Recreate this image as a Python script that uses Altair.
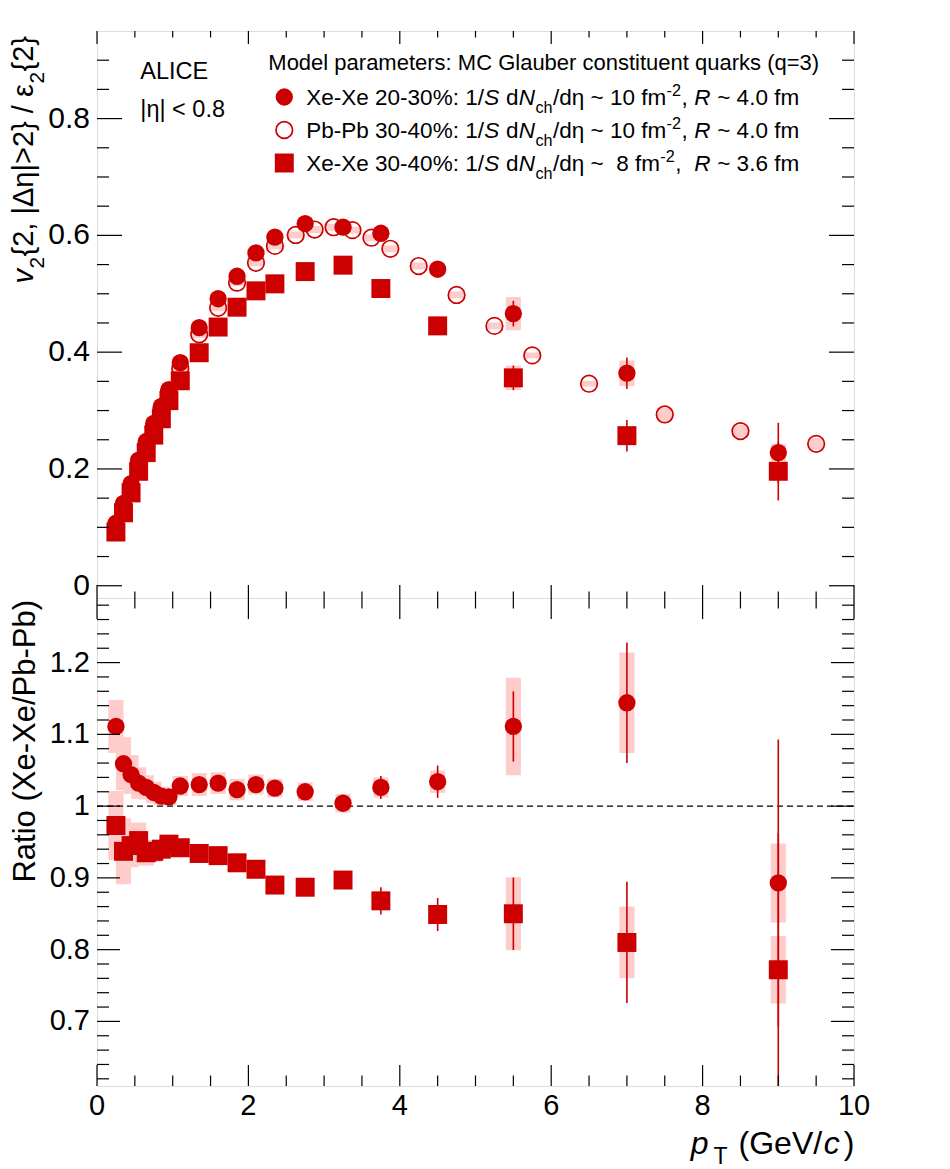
import altair as alt
import pandas as pd

RED = "#cc0000"
PINK = "#ffcccc"
FONT = "Liberation Sans"

# ---------------- data ----------------
XE_PT = [0.25, 0.35, 0.45, 0.55, 0.65, 0.75, 0.85, 0.95, 1.1, 1.35, 1.6, 1.85, 2.1, 2.35,
         2.75, 3.25, 3.75, 4.5, 5.5, 7.0, 9.0]
# Xe-Xe 20-30 %
XE2030_V = [0.107, 0.141, 0.175, 0.215, 0.247, 0.278, 0.307, 0.336, 0.382, 0.442, 0.4915, 0.530,
            0.570, 0.597, 0.620, 0.614, 0.6036, 0.542, 0.466, 0.364, 0.228]
XE2030_STAT = [0.002, 0.002, 0.002, 0.002, 0.002, 0.002, 0.002, 0.002, 0.002, 0.002, 0.002, 0.003,
               0.003, 0.003, 0.003, 0.004, 0.005, 0.008, 0.022, 0.027, 0.051]
XE2030_SYST = [0.003, 0.004, 0.004, 0.005, 0.005, 0.005, 0.006, 0.006, 0.006, 0.007, 0.007, 0.008,
               0.008, 0.008, 0.008, 0.008, 0.009, 0.010, 0.0285, 0.022, 0.015]
# Xe-Xe 30-40 %
XE3040_V = [0.092, 0.125, 0.159, 0.196, 0.228, 0.258, 0.286, 0.317, 0.351, 0.399, 0.443, 0.477,
            0.505, 0.517, 0.538, 0.549, 0.509, 0.445, 0.356, 0.257, 0.196]
XE3040_STAT = [0.002, 0.002, 0.002, 0.002, 0.002, 0.002, 0.002, 0.002, 0.002, 0.002, 0.002, 0.003,
               0.003, 0.003, 0.003, 0.004, 0.005, 0.007, 0.021, 0.027, 0.050]
XE3040_SYST = [0.003, 0.004, 0.004, 0.005, 0.005, 0.005, 0.006, 0.006, 0.006, 0.007, 0.007, 0.008,
               0.008, 0.008, 0.008, 0.008, 0.009, 0.010, 0.021, 0.012, 0.012]
# Pb-Pb 30-40 %
PB_PT = [0.25, 0.35, 0.45, 0.55, 0.65, 0.75, 0.85, 0.95, 1.1, 1.35, 1.6, 1.85, 2.1, 2.35,
         2.625, 2.875, 3.125, 3.375, 3.625, 3.875, 4.25, 4.75, 5.25, 5.75, 6.5, 7.5, 8.5, 9.5]
PB_V = [0.0954, 0.132, 0.1667, 0.206, 0.239, 0.272, 0.302, 0.332, 0.372, 0.4305, 0.476, 0.519,
        0.553, 0.582, 0.6007, 0.610, 0.614, 0.609, 0.596, 0.577, 0.5475, 0.498, 0.445, 0.3945,
        0.346, 0.2934, 0.2648, 0.243]
PB_SYST = [0.003, 0.004, 0.004, 0.004, 0.005, 0.005, 0.005, 0.005, 0.006, 0.006, 0.006, 0.006,
           0.006, 0.006, 0.006, 0.006, 0.006, 0.006, 0.006, 0.006, 0.006, 0.006, 0.006, 0.005,
           0.005, 0.011, 0.011, 0.010]
# Ratios Xe-Xe / Pb-Pb
R2030 = [1.111, 1.059, 1.044, 1.032, 1.026, 1.019, 1.014, 1.013, 1.028, 1.030, 1.032, 1.023,
         1.030, 1.025, 1.020, 1.004, 1.026, 1.034, 1.111, 1.144, 0.893]
R2030_STAT = [0.006, 0.005, 0.004, 0.004, 0.004, 0.004, 0.004, 0.004, 0.005, 0.006, 0.006, 0.006,
              0.007, 0.008, 0.008, 0.009, 0.016, 0.0225, 0.049, 0.084, 0.200]
R2030_SYST = [0.037, 0.037, 0.027, 0.022, 0.017, 0.015, 0.013, 0.012, 0.014, 0.016, 0.015, 0.015,
              0.014, 0.013, 0.013, 0.013, 0.014, 0.0155, 0.068, 0.070, 0.055]
R3040 = [0.973, 0.937, 0.945, 0.952, 0.935, 0.937, 0.940, 0.947, 0.942, 0.934, 0.931, 0.921,
         0.912, 0.890, 0.887, 0.897, 0.868, 0.849, 0.850, 0.810, 0.772]
R3040_STAT = [0.006, 0.005, 0.004, 0.004, 0.004, 0.004, 0.004, 0.004, 0.005, 0.006, 0.006, 0.006,
              0.007, 0.008, 0.008, 0.009, 0.019, 0.023, 0.0505, 0.0845, 0.190]
R3040_SYST = [0.048, 0.046, 0.030, 0.025, 0.018, 0.015, 0.013, 0.012, 0.012, 0.012, 0.012, 0.012,
              0.012, 0.012, 0.012, 0.012, 0.012, 0.012, 0.051, 0.050, 0.047]
REF_LINE = [1.0]

# axis ticks / labels
X_LABELS = [0, 2, 4, 6, 8, 10]
X_MINOR = [0.5, 1, 1.5, 2.5, 3, 3.5, 4.5, 5, 5.5, 6.5, 7, 7.5, 8.5, 9, 9.5]
TOP_Y_LABELS = [0, 0.2, 0.4, 0.6, 0.8]
TOP_Y_MINOR = [0.05, 0.1, 0.15, 0.25, 0.3, 0.35, 0.45, 0.5, 0.55, 0.65, 0.7, 0.75, 0.85, 0.9]
BOT_Y_LABELS = [0.7, 0.8, 0.9, 1.0, 1.1, 1.2]
BOT_Y_MINOR = [0.62, 0.64, 0.66, 0.68, 0.72, 0.74, 0.76, 0.78, 0.82, 0.84, 0.86, 0.88,
               0.92, 0.94, 0.96, 0.98, 1.02, 1.04, 1.06, 1.08, 1.12, 1.14, 1.16, 1.18,
               1.22, 1.24, 1.26, 1.28]

# ---------------- layout ----------------
W = 757
H_TOP = 567
H_BOT = 488
OX, OY_TOP, OY_BOT = 95.7, 30.0, 597.0   # page positions of the panel origins

XS = alt.Scale(domain=[0, 10], nice=False, zero=False)
YS_TOP = alt.Scale(domain=[-0.021, 0.95], nice=False, zero=False)
YS_BOT = alt.Scale(domain=[0.61, 1.29], nice=False, zero=False)

ONE = alt.Data(values=[{"k": 0}])

# Arial / Liberation Sans advance widths (1/1000 em)
WID = {' ': 278, '\u00a0': 278, '%': 889, '(': 333, ')': 333, ',': 278, '-': 333, '.': 278,
       '/': 278, ':': 278, '<': 584, '=': 584, '>': 584, '{': 334, '}': 334, '|': 260, '~': 584,
       'A': 667, 'C': 722, 'E': 667, 'G': 778, 'I': 278, 'L': 556, 'M': 833, 'N': 722, 'P': 667,
       'R': 722, 'S': 667, 'T': 611, 'V': 667, 'X': 667,
       'a': 556, 'b': 556, 'c': 500, 'd': 556, 'e': 556, 'f': 278, 'g': 556, 'h': 556, 'i': 222,
       'k': 500, 'l': 222, 'm': 833, 'n': 556, 'o': 556, 'p': 556, 'q': 556, 'r': 333, 's': 500,
       't': 278, 'u': 556, 'v': 500, 'η': 556, 'Δ': 668, 'ε': 446}


def tw(s):
    return sum(WID.get(c, 556) for c in s) / 1000.0


def rich(parts, x, y, size, angle=0, anchor="start", gap=0.0, subshift=0.36):
    """compose a text from pieces (normal / italic / sub / superscript);
    a piece may carry a third element: extra gap (px) after it"""
    sc = {"n": 1.0, "i": 1.0, "sub": 0.72, "sup": 0.72}
    sh = {"n": 0.0, "i": 0.0, "sub": subshift, "sup": -0.42}
    if angle == 0:
        d, dn = (1, 0), (0, 1)
    else:
        d, dn = (0, -1), (1, 0)
    parts = [(p[0], p[1], p[2] if len(p) > 2 else gap) for p in parts]
    total = sum(tw(t) * size * sc[k] + g for t, k, g in parts) - parts[-1][2]
    cx, cy = x, y
    if anchor == "end":
        cx -= d[0] * total
        cy -= d[1] * total
    out = []
    for t, k, g in parts:
        fs = size * sc[k]
        core = t.strip(" ").replace("  ", " \u00a0")
        lead = len(t) - len(t.lstrip(" "))
        off = tw(" " * lead) * fs
        px = cx + d[0] * off + dn[0] * sh[k] * size
        py = cy + d[1] * off + dn[1] * sh[k] * size
        if core:
            out.append(
                alt.Chart(ONE).mark_text(
                    text=core, align="left", baseline="alphabetic", angle=angle,
                    font=FONT, fontSize=fs, fontStyle="italic" if k == "i" else "normal",
                    color="black",
                ).encode(x=alt.value(px), y=alt.value(py))
            )
        adv = tw(t) * fs + g
        cx += d[0] * adv
        cy += d[1] * adv
    return out


def frame_ticks(H, ys, y_major, y_minor, xl, xs, yl, ysm):
    out = []
    for vals, ln in ((X_LABELS, xl), (X_MINOR, xs)):
        src = alt.Chart(pd.DataFrame({"v": vals}))
        out.append(src.mark_rule(color="black", strokeWidth=1.2).encode(
            x=alt.X("v:Q", scale=XS, axis=None), y=alt.value(H - ln), y2=alt.value(H)))
        out.append(src.mark_rule(color="black", strokeWidth=1.2).encode(
            x=alt.X("v:Q", scale=XS, axis=None), y=alt.value(0), y2=alt.value(ln)))
    for vals, ln in ((y_major, yl), (y_minor, ysm)):
        src = alt.Chart(pd.DataFrame({"v": vals}))
        out.append(src.mark_rule(color="black", strokeWidth=1.2).encode(
            y=alt.Y("v:Q", scale=ys, axis=None), x=alt.value(0), x2=alt.value(ln)))
        out.append(src.mark_rule(color="black", strokeWidth=1.2).encode(
            y=alt.Y("v:Q", scale=ys, axis=None), x=alt.value(W - ln), x2=alt.value(W)))
    return out


def y_labels(vals, ys, size, expr):
    return alt.Chart(pd.DataFrame({"v": vals})).transform_calculate(lab=expr).mark_text(
        align="right", baseline="middle", font=FONT, fontSize=size, color="black"
    ).encode(y=alt.Y("v:Q", scale=ys, axis=None), x=alt.value(-7), text="lab:N")


def x_labels(vals, H, size):
    return alt.Chart(pd.DataFrame({"v": vals})).transform_calculate(
        lab="format(datum.v, 'd')").mark_text(
        align="center", baseline="top", font=FONT, fontSize=size, color="black"
    ).encode(x=alt.X("v:Q", scale=XS, axis=None), y=alt.value(H + 6), text="lab:N")


def boxes(pt, v, err, ys):
    df = pd.DataFrame({"pt": pt, "v": v, "e": err})
    return alt.Chart(df).transform_calculate(
        x0="datum.pt - 0.1", x1="datum.pt + 0.1",
        lo="datum.v - datum.e", hi="datum.v + datum.e",
    ).mark_rect(color=PINK, clip=True).encode(
        x=alt.X("x0:Q", scale=XS, axis=None), x2="x1:Q",
        y=alt.Y("lo:Q", scale=ys, axis=None), y2="hi:Q")


def stats(pt, v, err, ys):
    df = pd.DataFrame({"pt": pt, "v": v, "e": err})
    return alt.Chart(df).transform_calculate(
        lo="datum.v - datum.e", hi="datum.v + datum.e",
    ).mark_rule(color=RED, strokeWidth=1.6, clip=True).encode(
        x=alt.X("pt:Q", scale=XS, axis=None),
        y=alt.Y("lo:Q", scale=ys, axis=None), y2="hi:Q")


MARK = {
    "fc": dict(shape="circle", filled=True, size=300, color=RED, opacity=1),
    "oc": dict(shape="circle", filled=False, size=275, color=RED, strokeWidth=1.7, opacity=1),
    "sq": dict(shape="square", filled=True, size=360, color=RED, opacity=1),
}


def markers(pt, v, ys, kind):
    df = pd.DataFrame({"pt": pt, "v": v})
    return alt.Chart(df).mark_point(**MARK[kind]).encode(
        x=alt.X("pt:Q", scale=XS, axis=None), y=alt.Y("v:Q", scale=ys, axis=None))


def legend_marker(kind, px, py):
    return alt.Chart(ONE).mark_point(**MARK[kind]).encode(
        x=alt.value(px - OX), y=alt.value(py - OY_TOP))


# ---------------- top panel ----------------
top_layers = [
    boxes(PB_PT, PB_V, PB_SYST, YS_TOP),
    boxes(XE_PT, XE2030_V, XE2030_SYST, YS_TOP),
    boxes(XE_PT, XE3040_V, XE3040_SYST, YS_TOP),
    markers(PB_PT, PB_V, YS_TOP, "oc"),
    stats(XE_PT, XE2030_V, XE2030_STAT, YS_TOP),
    stats(XE_PT, XE3040_V, XE3040_STAT, YS_TOP),
    markers(XE_PT, XE2030_V, YS_TOP, "fc"),
    markers(XE_PT, XE3040_V, YS_TOP, "sq"),
]
top_layers += frame_ticks(H_TOP, YS_TOP, TOP_Y_LABELS, TOP_Y_MINOR, 13, 6.5, 25, 12)
top_layers.append(y_labels(TOP_Y_LABELS, YS_TOP, 30,
                           "datum.v == 0 ? '0' : format(datum.v, '.1f')"))


def T(px, py):
    return px - OX, py - OY_TOP


top_layers += rich([("ALICE", "n")], *T(139, 78), 23.5)
top_layers += rich([("|η| < 0.8", "n")], *T(139, 116), 23.5)
top_layers += rich([("Model parameters: MC Glauber constituent quarks (q=3)", "n")], *T(267, 69), 22)
rows = [
    ("fc", "Xe-Xe 20-30%: 1/", " ~ 10 fm", ", ", " ~ 4.0 fm", 96),
    ("oc", "Pb-Pb 30-40%: 1/", " ~ 10 fm", ", ", " ~ 4.0 fm", 129),
    ("sq", "Xe-Xe 30-40%: 1/", " ~  8 fm", ",  ", " ~ 3.6 fm", 162),
]
for kind, head, mid, comma, tail, yc in rows:
    top_layers.append(legend_marker(kind, 283, yc))
    top_layers += rich([(head, "n"), ("S", "i"), (" d", "n"), ("N", "i"), ("ch", "sub"),
                        ("/dη" + mid, "n"), ("-2", "sup"), (comma, "n"), ("R", "i"),
                        (tail, "n")], *T(305, yc + 8), 22.5, gap=0.4)

top_layers += rich([("v", "i"), ("2", "sub"), ("{2, |Δη|>2} / ε", "n"), ("2", "sub"), ("{2}", "n")],
                   *T(32, 35), 29, angle=270, anchor="end", gap=0.5)
# invisible anchor fixing the page offset of the plot area
top_layers.append(alt.Chart(ONE).mark_rule(color="white", strokeWidth=0.5).encode(
    x=alt.value(-(OX - 8)), x2=alt.value(-(OX - 8) + 0.5),
    y=alt.value(-(OY_TOP - 8)), y2=alt.value(-(OY_TOP - 8) + 0.5)))

top = alt.layer(*top_layers).properties(width=W, height=H_TOP)

# ---------------- bottom panel ----------------
def B(px, py):
    return px - OX, py - OY_BOT


bot_layers = [
    boxes(XE_PT, R2030, R2030_SYST, YS_BOT),
    boxes(XE_PT, R3040, R3040_SYST, YS_BOT),
    alt.Chart(pd.DataFrame({"v": REF_LINE})).mark_rule(
        color="black", strokeDash=[6, 4], strokeWidth=1.4).encode(
        y=alt.Y("v:Q", scale=YS_BOT, axis=None), x=alt.value(0), x2=alt.value(W)),
    stats(XE_PT, R2030, R2030_STAT, YS_BOT),
    stats(XE_PT, R3040, R3040_STAT, YS_BOT),
    markers(XE_PT, R2030, YS_BOT, "fc"),
    markers(XE_PT, R3040, YS_BOT, "sq"),
]
bot_layers += frame_ticks(H_BOT, YS_BOT, BOT_Y_LABELS, BOT_Y_MINOR, 21, 10.5, 23, 12)
bot_layers.append(y_labels(BOT_Y_LABELS, YS_BOT, 29,
                           "datum.v == 1 ? '1' : format(datum.v, '.1f')"))
bot_layers.append(x_labels(X_LABELS, H_BOT, 29))
bot_layers += rich([("Ratio (Xe-Xe/Pb-Pb)", "n")], *B(34, 599), 31, angle=270, anchor="end")
bot_layers += rich([("p", "i", 5), ("T", "sub", 2), (" (GeV/", "n", 1.5), ("c", "i", 4), (")", "n")],
                   *B(853, 1153), 32, anchor="end", subshift=0.3)

bottom = alt.layer(*bot_layers).properties(width=W, height=H_BOT)

chart = alt.vconcat(top, bottom, spacing=0, bounds="flush").properties(
    padding={"left": 0, "top": 0, "right": 5, "bottom": 0}
).configure_view(stroke="black", strokeWidth=1.6).configure(background="white")

chart.save("out.html", embed_options={"renderer": "svg", "actions": False})
